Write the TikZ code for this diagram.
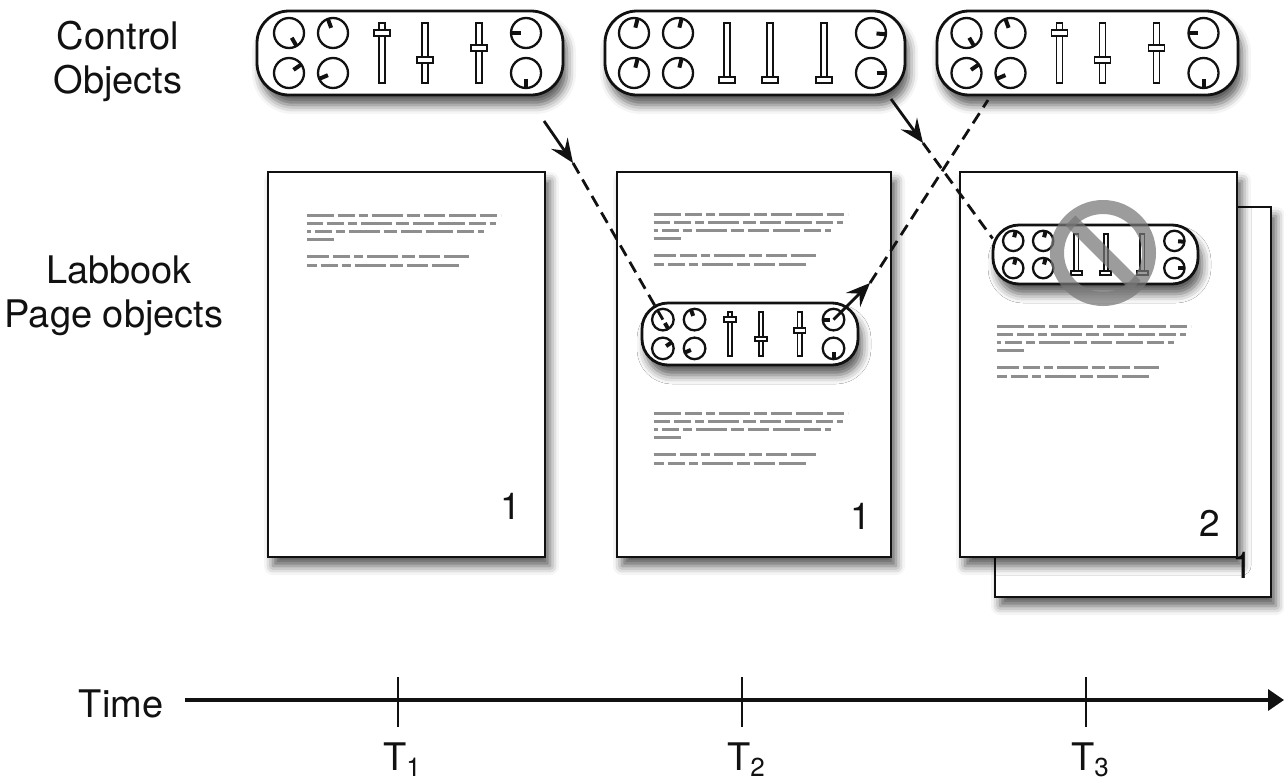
\documentclass[tikz,border=0pt]{standalone}
\usepackage{fontspec}
\setmainfont{TeX Gyre Heros}
\usetikzlibrary{positioning, arrows.meta, calc, shadows.blur}
\definecolor{ink}{HTML}{111111}
\definecolor{fake}{HTML}{8E8E8E}
\definecolor{banc}{HTML}{777777}
\tikzset{
  lbl/.style={font=\fontsize{38pt}{44pt}\selectfont, text=ink, inner sep=0pt, anchor=base},
  pagenum/.style={font=\fontsize{37pt}{44pt}\selectfont, text=ink, inner sep=0pt, anchor=base east},
  pagebox/.style={draw=ink, fill=white, line width=2.7pt, inner sep=0pt,
                  blur shadow={shadow xshift=5pt, shadow yshift=-9pt, shadow blur radius=9pt, shadow opacity=65}},
  ctrlbox/.style={draw=ink, fill=white, rounded corners=32pt, line width=2.8pt, inner sep=0pt,
                  minimum height=84pt,
                  blur shadow={shadow xshift=4pt, shadow yshift=-10pt, shadow blur radius=9pt, shadow opacity=65}},
  minibox/.style={ctrlbox, rounded corners=26pt},
  knobring/.style={draw=ink, line width=2.3pt},
  knobptr/.style={draw=ink, line width=4pt},
  track/.style={draw=ink, fill=white, line width=1.9pt},
  handle/.style={draw=ink, fill=white, line width=1.9pt},
  fakeline/.style={draw=fake, line width=2.8pt,
                   dash pattern=on 27pt off 4pt on 17pt off 4pt on 9pt off 4pt on 31pt off 4pt on 13pt off 4pt on 21pt off 4pt},
  flowarr/.style={draw=ink, line width=2.8pt, -{Stealth[length=24pt, width=20pt, inset=9pt]}},
  flowdash/.style={draw=ink, line width=2.8pt, dash pattern=on 12pt off 7pt},
  timeaxis/.style={draw=ink, line width=3.4pt, -{Triangle[length=16pt, width=21pt]}},
  tickmark/.style={draw=ink, line width=2.8pt},
  nosign/.style={circle, draw=banc, line width=14pt, minimum size=92pt, inner sep=0pt,
                 outer sep=0pt, draw opacity=0.72},
  nobar/.style={draw=banc, line width=14pt, draw opacity=0.72},
}
% one knob: x, y, pointer angle (screen, clockwise)
\newcommand\knob[3]{%
  \draw[knobring] (#1,#2) circle[radius=15];
  \draw[knobptr] (#1,#2) ++(#3:5.5) -- ++(#3:9);}
% one slider: x, handle y
\newcommand\slider[2]{%
  \draw[track] (#1-3,-30) rectangle (#1+3,30);
  \draw[handle] (#1-8,#2-3) rectangle (#1+8,#2+3);}
\newcommand\ctrlparts[9]{%
  \knob{-121}{-20}{#1}\knob{-77}{-20}{#2}%
  \knob{-121}{20}{#3}\knob{-77}{20}{#4}%
  \knob{116}{-20}{#5}\knob{116}{20}{#6}%
  \slider{-28}{#7}\slider{15}{#8}\slider{69}{#9}}
\newcommand\stateA{\ctrlparts{60}{-110}{-35}{157}{180}{90}{-20}{7}{-5}}
\newcommand\stateB{\ctrlparts{-76}{-76}{-76}{-76}{5}{0}{27}{27}{27}}
% greyed filler text of a page
\newcommand\fakeblock[1]{%
  \begin{scope}[shift={(#1)}]
    \draw[fakeline] (0,0) -- (194,0);
    \draw[fakeline, dash phase=11pt] (0,8) -- (189,8);
    \draw[fakeline, dash phase=23pt] (0,16) -- (177,16);
    \draw[fakeline] (0,24) -- (30,24);
    \draw[fakeline, dash phase=5pt] (0,41) -- (162,41);
    \draw[fakeline, dash phase=17pt] (0,50) -- (154,50);
  \end{scope}}

\begin{document}
\begin{tikzpicture}[x=1pt, y=-1pt]
  \useasboundingbox (0,0) rectangle (1284,782);

  % row labels
  \node[lbl] (ctrlhead) at (118,49) {Control};
  \node[lbl] (ctrlhead2) at ([yshift=-44pt]ctrlhead.base) {Objects};
  \node[lbl] (pagehead) at (119,283) {Labbook};
  \node[lbl] (pagehead2) at (114,327) {Page objects};

  % labbook pages
  \node[pagebox, minimum width=277pt, minimum height=385pt] (pageA) at (406.5,364.5) {};
  \node[pagebox, minimum width=274pt, minimum height=385pt] (pageB) at (754,364.5) {};
  \node[pagebox, minimum width=276pt, minimum height=390pt] (pageCback) at (1133,402) {};
  \node[pagenum] (numCback) at ($(pageCback.south east)+(-19,-20)$) {1};
  \node[pagebox, minimum width=277pt, minimum height=385pt] (pageC) at (1098.5,364.5) {};
  \node[pagenum] (numA) at ($(pageA.south east)+(-25,-39)$) {1};
  \node[pagenum] (numB) at ($(pageB.south east)+(-21,-29)$) {1};
  \node[pagenum] (numC) at ($(pageC.south east)+(-18,-22)$) {2};
  \fakeblock{$(pageA.north west)+(40,45)$}
  \fakeblock{$(pageB.north west)+(38,44)$}
  \fakeblock{$(pageB.north west)+(38,243)$}
  \fakeblock{$(pageC.north west)+(38,156)$}

  % control objects
  \node[ctrlbox, minimum width=306pt] (ctrlA) at (410,53) {};
  \begin{scope}[shift={(ctrlA.center)}] \stateA \end{scope}
  \node[ctrlbox, minimum width=300pt] (ctrlB) at (755,53) {};
  \begin{scope}[shift={(ctrlB.center)}] \stateB \end{scope}
  \node[ctrlbox, minimum width=301pt] (ctrlC) at (1087.5,53) {};
  \begin{scope}[shift={(ctrlC.center)}] \stateA \end{scope}

  % embedded copies
  \node[minibox, minimum width=216pt, minimum height=62pt] (embB) at (750,334) {};
  \begin{scope}[shift={(embB.center)}, scale=0.72]
    \stateA
    \coordinate (embBin) at (-121,-20);
    \coordinate (embBout) at (116,-20);
  \end{scope}
  \node[minibox, minimum width=205pt, minimum height=59pt] (embC) at (1095.5,254.5) {};
  \begin{scope}[shift={(embC.center)}, scale=0.68] \stateB \end{scope}
  \node[nosign] (ban) at (1103,253) {};
  \draw[nobar] (ban.135) -- (ban.-45);

  % connectors
  \coordinate (srcA) at (544,121);
  \coordinate (tipA) at (573,163);
  \draw[flowarr] (srcA) -- (tipA);
  \draw[flowdash] (tipA) -- (embBin);
  \coordinate (tipB) at (870,283);
  \coordinate (dstB) at (988,100);
  \draw[flowarr] (embBout) -- (tipB);
  \draw[flowdash] (tipB) -- (dstB);
  \coordinate (srcC) at (891,99);
  \coordinate (tipC) at (923,143);
  \coordinate (dstC) at ($(embC.west)+(1,-16)$);
  \draw[flowarr] (srcC) -- (tipC);
  \draw[flowdash] (tipC) -- (dstC);

  % time axis
  \node[lbl] (timehead) at (121,717) {Time};
  \coordinate (tstart) at (185,700);
  \coordinate (tend) at (1284,700);
  \draw[timeaxis] (tstart) -- (tend);
  \foreach \i/\x in {1/398,2/742,3/1086}{
    \draw[tickmark] (\x,677) -- (\x,727);
    \node[lbl] (tlab\i) at (\x+4,770) {T\raisebox{-6pt}{\fontsize{26pt}{26pt}\selectfont\i}};
  }
\end{tikzpicture}
\end{document}
